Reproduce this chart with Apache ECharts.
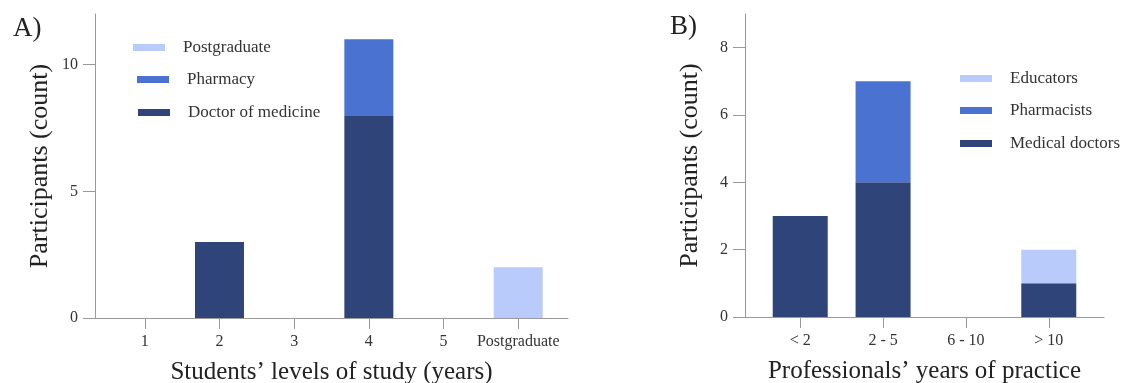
<!DOCTYPE html>
<html>
<head>
<meta charset="utf-8">
<script src="https://cdn.jsdelivr.net/npm/echarts@6/dist/echarts.min.js"></script>
<style>
html,body{margin:0;padding:0;background:#fff;}
#chart{width:1123px;height:383px;}
</style>
</head>
<body>
<div id="chart"></div>
<script>
// ---- Data ----
const catsA = ['1', '2', '3', '4', '5', 'Postgraduate'];
const doctorA = [0, 3, 0, 8, 0, 0];
const pharmacyA = [0, 0, 0, 3, 0, 0];
const postgradA = [0, 0, 0, 0, 0, 2];
const yTicksA = [0, 5, 10];

const catsB = ['< 2', '2 - 5', '6 - 10', '> 10'];
const medicalB = [3, 4, 0, 1];
const pharmacistsB = [0, 3, 0, 0];
const educatorsB = [0, 0, 0, 1];
const yTicksB = [0, 2, 4, 6, 8];

// ---- Styling ----
const FONT = "'Liberation Serif', 'Times New Roman', serif";
const C_DARK = '#2f4579';
const C_MID = '#4a72d1';
const C_LIGHT = '#b8cbfa';
const AXIS_C = '#9a9a9a';
const TEXT_C = '#333';

// value first, position second, so the stacked dimension is the value
const toPairs = (vals) => vals.map((v, i) => [v, i + 1]);
const idxList = (cats) => cats.map((c, i) => i + 1);

function xAxisFor(gridIndex, cats, name) {
  return {
    type: 'value', gridIndex: gridIndex,
    min: 1 / 3, max: cats.length + 2 / 3,
    splitLine: { show: false },
    axisLine: { show: true, lineStyle: { color: AXIS_C, width: 1 } },
    axisTick: { show: true, length: 11, customValues: idxList(cats), lineStyle: { color: AXIS_C } },
    axisLabel: {
      customValues: idxList(cats), margin: 16,
      fontFamily: FONT, fontSize: 16, color: TEXT_C,
      formatter: (v) => cats[Math.round(v) - 1]
    },
    name: name, nameLocation: 'middle', nameGap: 42,
    nameTextStyle: { fontFamily: FONT, fontSize: 25, color: '#222' }
  };
}
function yAxisFor(gridIndex, max, ticks) {
  return {
    type: 'value', gridIndex: gridIndex, min: 0, max: max,
    splitLine: { show: false },
    axisLine: { show: true, lineStyle: { color: AXIS_C, width: 1 } },
    axisTick: { show: true, length: 12, customValues: ticks, lineStyle: { color: AXIS_C } },
    axisLabel: { customValues: ticks, margin: 17, fontFamily: FONT, fontSize: 16, color: TEXT_C },
    name: 'Participants (count)', nameLocation: 'middle', nameGap: 42,
    nameTextStyle: { fontFamily: FONT, fontSize: 26, color: '#222' }
  };
}
function bar(name, vals, color, xi, yi, stack, width) {
  return {
    type: 'bar', name: name, data: toPairs(vals),
    encode: { x: 1, y: 0 },
    xAxisIndex: xi, yAxisIndex: yi, stack: stack, barWidth: width,
    itemStyle: { color: color }, animation: false
  };
}
function legendItem(name, left, top) {
  return {
    data: [name], left: left, top: top, orient: 'vertical',
    icon: 'rect', itemWidth: 32, itemHeight: 7, padding: 0,
    textStyle: { fontFamily: FONT, fontSize: 17, color: TEXT_C, padding: [0, 0, 0, 13] }
  };
}

const chart = echarts.init(document.getElementById('chart'), null, { renderer: 'canvas' });
chart.setOption({
  backgroundColor: '#fff',
  animation: false,
  title: [
    { text: 'A)', left: 8, top: 10, textStyle: { fontFamily: FONT, fontSize: 27, fontWeight: 'normal', color: '#222' } },
    { text: 'B)', left: 665, top: 8, textStyle: { fontFamily: FONT, fontSize: 27, fontWeight: 'normal', color: '#222' } }
  ],
  grid: [
    { left: 95, top: 14, width: 473, height: 304, containLabel: false, outerBoundsMode: 'none' },
    { left: 745, top: 14, width: 359, height: 303, containLabel: false, outerBoundsMode: 'none' }
  ],
  xAxis: [
    xAxisFor(0, catsA, 'Students\u2019 levels of study (years)'),
    xAxisFor(1, catsB, 'Professionals\u2019 years of practice')
  ],
  yAxis: [
    yAxisFor(0, 12, yTicksA),
    yAxisFor(1, 9, yTicksB)
  ],
  legend: [
    legendItem('Postgraduate', 133, 39),
    legendItem('Pharmacy', 137, 71),
    legendItem('Doctor of medicine', 138, 104),
    legendItem('Educators', 960, 70),
    legendItem('Pharmacists', 960, 102),
    legendItem('Medical doctors', 960, 135)
  ],
  series: [
    bar('Doctor of medicine', doctorA, C_DARK, 0, 0, 'a', 49),
    bar('Pharmacy', pharmacyA, C_MID, 0, 0, 'a', 49),
    bar('Postgraduate', postgradA, C_LIGHT, 0, 0, 'a', 49),
    bar('Medical doctors', medicalB, C_DARK, 1, 1, 'b', 55),
    bar('Pharmacists', pharmacistsB, C_MID, 1, 1, 'b', 55),
    bar('Educators', educatorsB, C_LIGHT, 1, 1, 'b', 55)
  ]
});
</script>
</body>
</html>
